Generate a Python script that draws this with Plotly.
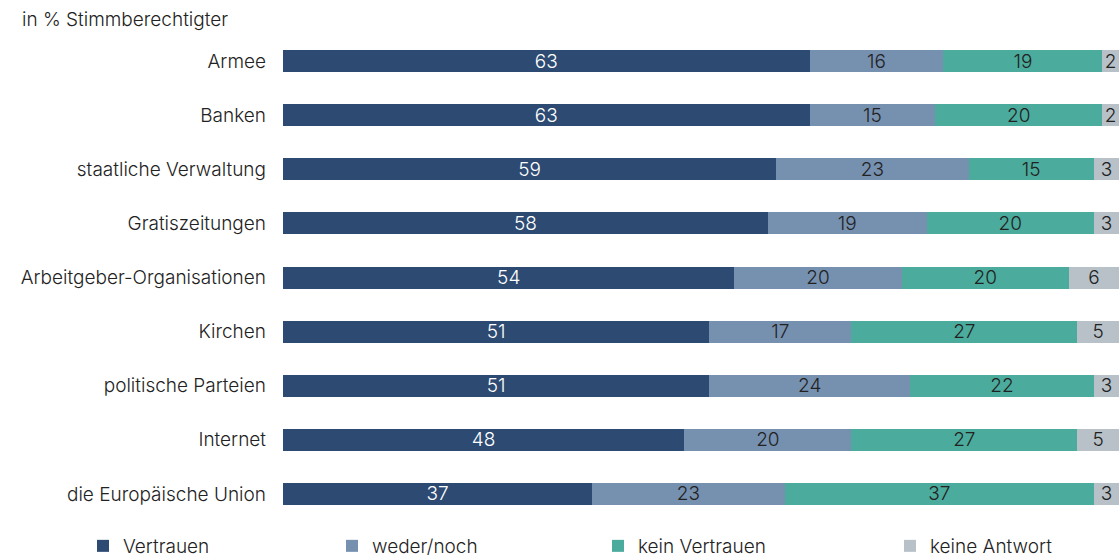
import plotly.graph_objects as go

categories = ["Armee", "Banken", "staatliche Verwaltung", "Gratiszeitungen",
              "Arbeitgeber-Organisationen", "Kirchen", "politische Parteien",
              "Internet", "die Europäische Union"]
vertrauen = [63, 63, 59, 58, 54, 51, 51, 48, 37]
weder_noch = [16, 15, 23, 19, 20, 17, 24, 20, 23]
kein_vertrauen = [19, 20, 15, 20, 20, 27, 22, 27, 37]
keine_antwort = [2, 2, 3, 3, 6, 5, 3, 5, 3]

series = [
    ("Vertrauen", vertrauen, "#2c4a72", "#ffffff"),
    ("weder/noch", weder_noch, "#7690b0", "#222222"),
    ("kein Vertrauen", kein_vertrauen, "#4bab9c", "#222222"),
    ("keine Antwort", keine_antwort, "#b7c1c7", "#222222"),
]
legend_x = [83, 332, 598, 890]

FONT = "Inter"
FS = 19
WT = 300
fig = go.Figure()
for i, (name, vals, color, tcolor) in enumerate(series):
    fig.add_trace(go.Bar(
        y=categories, x=vals, name=name, orientation="h",
        marker=dict(color=color, line=dict(width=0)),
        text=[str(v) for v in vals], textposition="inside",
        insidetextanchor="middle", textangle=0,
        textfont=dict(color=tcolor, size=FS, family=FONT, weight=WT),
        hoverinfo="skip",
        legend="legend" if i == 0 else f"legend{i+1}",
    ))

layout_legends = {}
for i, lx in enumerate(legend_x):
    key = "legend" if i == 0 else f"legend{i+1}"
    layout_legends[key] = dict(
        xref="container", yref="container", x=lx / 1119, y=(560 - 546) / 560,
        xanchor="left", yanchor="middle", orientation="h",
        font=dict(size=FS, family=FONT, color="#222222", weight=WT),
        bgcolor="rgba(0,0,0,0)", borderwidth=0,
    )

fig.update_layout(
    barmode="stack", bargap=0.5935,
    width=1119, height=560,
    margin=dict(l=283, r=0, t=34, b=39, autoexpand=False),
    plot_bgcolor="white", paper_bgcolor="white",
    font=dict(family=FONT, size=FS, color="#222222", weight=WT),
    uniformtext=dict(minsize=FS, mode="show"),
    xaxis=dict(range=[0, 100], visible=False, fixedrange=True),
    yaxis=dict(categoryorder="array", categoryarray=categories, autorange="reversed",
               showgrid=False, zeroline=False, showline=False, ticks="",
               ticklabelstandoff=16, fixedrange=True,
               tickfont=dict(size=FS, family=FONT, color="#222222", weight=WT)),
    annotations=[dict(text="in % Stimmberechtigter", xref="paper", yref="paper",
                      x=(20 - 283) / 836, y=1 + (34 - 20) / 487, xanchor="left", yanchor="middle",
                      showarrow=False, font=dict(size=FS, family=FONT, color="#222222", weight=WT))],
    showlegend=True,
    **layout_legends,
)

fig.write_html("out.html", config={"displayModeBar": False},
               post_script="document.body.style.margin='0';document.body.style.overflow='hidden';")
